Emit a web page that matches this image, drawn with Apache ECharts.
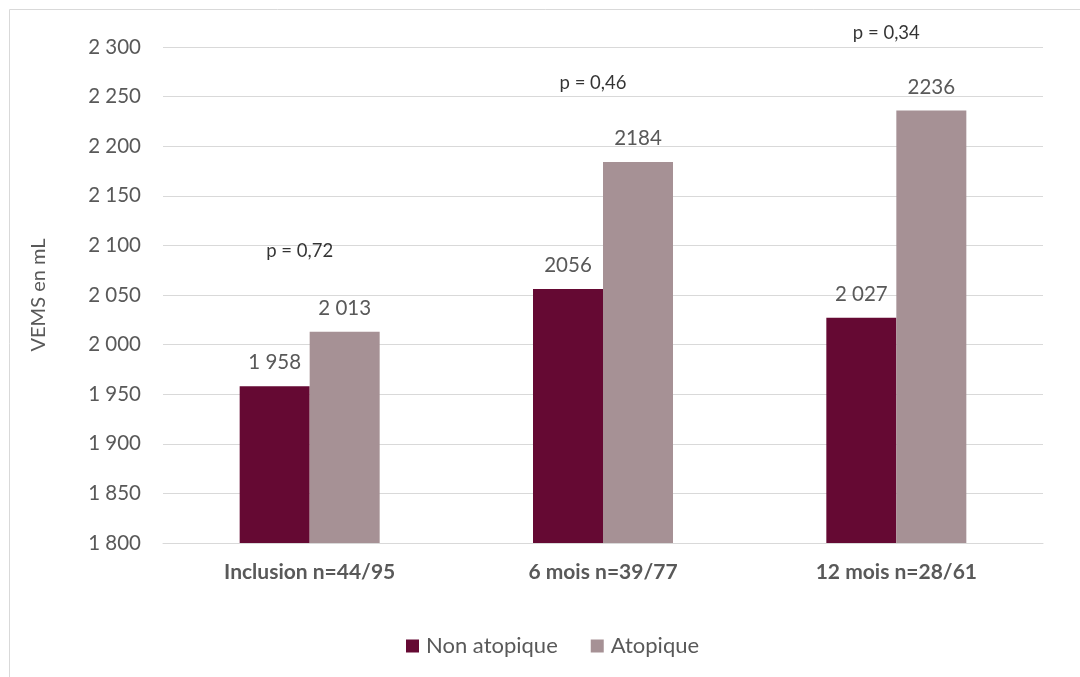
<!DOCTYPE html>
<html><head><meta charset="utf-8">
<script src="https://cdn.jsdelivr.net/npm/echarts@6/dist/echarts.min.js"></script>
<style>html,body{margin:0;padding:0;background:#fff}#c{width:1080px;height:677px}</style>
</head><body><div id="c"></div>
<script>
const categories = ['Inclusion n=44/95', '6 mois n=39/77', '12 mois n=28/61'];
const nonAtopique = [1958, 2056, 2027];
const atopique = [2013, 2184, 2236];
const nonAtopiqueLabels = ['1 958', '2056', '2 027'];
const atopiqueLabels = ['2 013', '2184', '2236'];
const pTexts = ['p = 0,72', 'p = 0,46', 'p = 0,34'];
const pPositions = [2094, 2264, 2314];

const font = 'Lato, "Open Sans", sans-serif';
const chart = echarts.init(document.getElementById('c'));
chart.setOption({
  animation: false,
  graphic: [{type:'rect', shape:{x:9.5,y:9.5,width:1200,height:800}, style:{fill:'none', stroke:'#d9d9d9', lineWidth:1}, silent:true}],
  grid: {left:163, right:37, top:47, bottom:134},
  legend: {
    bottom: 20, left: 406, itemWidth: 13, itemHeight: 13, itemGap: 33,
    icon: 'rect', padding: 0,
    textStyle: {fontFamily: font, fontSize: 22, color: '#595959', padding: [0, 0, 0, 2]},
    data: ['Non atopique', 'Atopique']
  },
  xAxis: {
    type: 'category', data: categories,
    axisLine: {lineStyle: {color: '#d9d9d9'}}, axisTick: {show: false},
    axisLabel: {fontFamily: font, fontSize: 21, fontWeight: 'bold', color: '#595959', margin: 19}
  },
  yAxis: {
    type: 'value', min: 1800, max: 2300, interval: 50,
    name: 'VEMS en mL', nameLocation: 'middle', nameGap: 114, nameRotate: 90,
    nameTextStyle: {fontFamily: font, fontSize: 20, color: '#595959'},
    axisLine: {show: false}, axisTick: {show: false},
    splitLine: {lineStyle: {color: '#d9d9d9'}},
    axisLabel: {fontFamily: font, fontSize: 20.5, color: '#595959', margin: 22,
      formatter: v => String(v).replace(/\B(?=(\d{3})+(?!\d))/g, ' ')}
  },
  series: [
    {name: 'Non atopique', type: 'bar', data: nonAtopique, barWidth: 70, barGap: '0%',
     itemStyle: {color: '#650933'},
     label: {show: true, position: 'top', distance: 13, fontFamily: font, fontSize: 20.5, color: '#595959',
       formatter: p => nonAtopiqueLabels[p.dataIndex]}},
    {name: 'Atopique', type: 'bar', data: atopique, barWidth: 70, barGap: '0%',
     itemStyle: {color: '#a69195'},
     label: {show: true, position: 'top', distance: 13, fontFamily: font, fontSize: 20.5, color: '#595959',
       formatter: p => atopiqueLabels[p.dataIndex]}},
    {name: 'p', type: 'scatter', data: pPositions, symbolSize: 0, clip: false, silent: true,
     label: {show: true, position: 'inside', offset: [-10, 0], fontFamily: font, fontSize: 18.5, color: '#000',
       formatter: p => pTexts[p.dataIndex]}}
  ]
});
</script></body></html>
